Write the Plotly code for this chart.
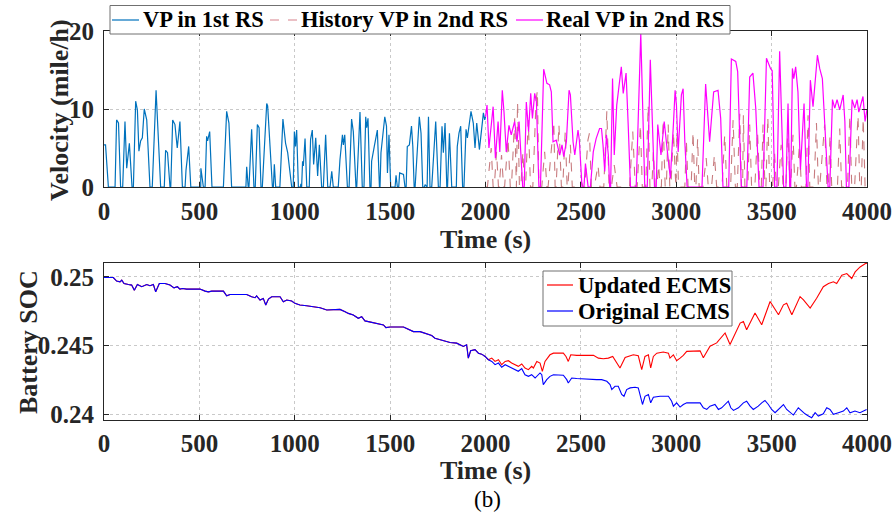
import plotly.graph_objects as go

# ---------------- velocity profiles (time in s, speed in mile/h) ----------------
vp1_t = [0, 8, 23, 58, 66, 76, 87, 98, 110, 119, 133, 147, 154, 166, 175, 183, 192, 201, 211, 224, 241,
         253, 273, 297, 316, 323, 333, 346, 350, 360, 372, 384, 398, 411, 425, 430, 444, 455, 507, 508,
         521, 530, 538, 543, 554, 566, 626, 643, 655, 669, 744, 748, 756, 760, 774, 786, 793, 804, 813,
         823, 830, 853, 858, 870, 883, 888, 893, 900, 922, 938, 952, 963, 984, 992, 998, 1004, 1010,
         1019, 1030, 1032, 1036, 1041, 1045, 1054, 1063, 1076, 1083, 1092, 1099, 1110, 1120, 1129,
         1141, 1150, 1162, 1173, 1185, 1194, 1202, 1228, 1237, 1250, 1255, 1262, 1276, 1285, 1298,
         1307, 1321, 1325, 1342, 1354, 1363, 1372, 1377, 1384, 1394, 1400, 1403, 1417, 1426, 1433,
         1444, 1447, 1452, 1472, 1481, 1486, 1494, 1503, 1526, 1531, 1538, 1545, 1550, 1570, 1578,
         1584, 1590, 1601, 1612, 1619, 1626, 1631, 1653, 1662, 1671, 1680, 1683, 1690, 1694, 1701,
         1709, 1718, 1739, 1753, 1762, 1772, 1779, 1788, 1797, 1801, 1811, 1823, 1847, 1852, 1861,
         1870, 1880, 1887, 1898, 1905, 1924, 1936, 1945, 1954, 1968, 1989, 1996, 2000]
vp1_v = [5.4, 5.4, 0, 0, 8.6, 8.2, 0, 0, 8.4, 2.4, 5.6, 0, 0, 11.0, 9.9, 4.6, 5.9, 6.3, 10.0, 8.6, 0,
         0, 12.4, 0, 0, 4.7, 4.4, 0, 0, 8.6, 8.0, 5.0, 8.4, 0, 0, 2.2, 5.2, 0, 0, 2.4,
         0, 0, 6.5, 5.9, 7.1, 0, 0, 9.7, 8.2, 0, 0, 2.6, 0, 0, 7.4, 0, 0, 8.0, 7.6,
         0, 0, 10.7, 10.4, 6.0, 0, 0, 2.9, 0, 0, 8.7, 5.6, 4.4, 0, 0, 7.1, 5.2, 7.3,
         0, 0, 0.4, 0, 3.3, 2.7, 6.2, 0, 0, 6.1, 7.3, 2.9, 6.3, 1.4, 5.4,
         0, 0, 6.7, 0, 0, 2.0, 0, 0, 3.5, 6.7, 5.4, 6.7, 0, 0, 8.7,
         7.1, 0, 0, 9.6, 0, 0, 9.0, 7.6, 8.8, 0, 0, 3.3, 5.2, 6.3, 7.3,
         0, 0, 4.4, 9.0, 7.8, 1.8, 6.7, 0, 0, 1.5, 0, 0, 1.8, 1.6, 0,
         0, 5.2, 5.4, 7.8, 5.2, 0, 0, 9.0, 6.9, 0, 0, 0.3, 0, 0, 9.0,
         0, 0, 8.4, 0, 0, 7.8, 4.4, 8.2, 0, 0, 6.9, 0, 0, 5.2, 6.9,
         7.8, 0, 0, 7.4, 6.3, 9.7, 8.2, 5.0, 8.2, 4.8, 9.5, 8.6, 9.0]

hist_t = [2000, 2010, 2030, 2040, 2046, 2058, 2068, 2072, 2084, 2095, 2100, 2118, 2130, 2136, 2153,
          2160, 2162, 2168, 2178, 2185, 2196, 2205, 2210, 2224, 2236, 2248, 2265, 2272, 2280, 2295,
          2310, 2322, 2328, 2358, 2365, 2370, 2385, 2398, 2405, 2418, 2428, 2432, 2445, 2455, 2490,
          2502, 2512, 2520, 2537, 2545, 2555, 2570, 2590, 2600, 2620, 2636, 2648, 2660, 2675, 2690,
          2755, 2772, 2785, 2795, 2812, 2822, 2840, 2853, 2862, 2872, 2880, 2890, 2898, 2908, 2915,
          2922, 2931, 2942, 2948, 2958, 2966, 2972, 2985, 2998, 3004, 3012, 3045, 3053, 3062, 3078,
          3088, 3097, 3103, 3112, 3120, 3140, 3157, 3168, 3185, 3200, 3212, 3240, 3254, 3265, 3285,
          3298, 3310, 3320, 3333, 3342, 3348, 3352, 3360, 3375, 3385, 3395, 3412, 3426, 3438, 3446,
          3455, 3465, 3470, 3480, 3490, 3505, 3515, 3525, 3535, 3550, 3560, 3575, 3586, 3595, 3600,
          3612, 3622, 3630, 3646, 3656, 3680, 3691, 3700, 3722, 3735, 3745, 3752, 3778, 3790, 3798,
          3806, 3815, 3845, 3857, 3867, 3898, 3910, 3920, 3935, 3953, 3962, 3970, 3980, 3990, 4000]
hist_v = [0, 0, 5.0, 0, 0, 4.5, 0, 0, 4.1, 0, 0, 6.2, 0, 0, 8.8,
          0, 0, 10.9, 0, 0, 4.5, 0, 0, 8.6, 0, 0, 11.0, 12.4, 0, 0,
          4.5, 0, 0, 8.4, 0, 0, 8.0, 0, 0, 7.1, 0, 0, 5.4, 0, 0,
          0.7, 0, 0, 6.0, 6.9, 0, 0, 2.8, 0, 0, 9.7, 0, 0, 2.8, 0,
          0, 7.1, 0, 0, 8.0, 0, 0, 10.5, 0, 0, 4.5, 0, 0, 2.8, 0,
          0, 8.6, 0, 0, 8.0, 0, 0, 7.1, 0, 7.1, 0, 0, 6.0, 0, 0,
          7.1, 0, 0, 6.2, 0, 0, 3.7, 0, 0, 4.1, 0, 0, 6.7, 0, 0,
          8.6, 0, 0, 9.4, 0, 0, 9.2, 0, 0, 8.0, 0, 0, 7.1, 0, 0,
          8.0, 0, 0, 9.0, 0, 0, 4.5, 0, 0, 5.4, 0, 0, 8.8, 0, 0,
          6.7, 0, 0, 5.4, 0, 0, 9.2, 0, 0, 8.2, 0, 0, 8.0, 0, 0,
          6.7, 0, 0, 7.5, 0, 0, 9.2, 0, 0, 9.2, 0, 0, 8.8, 0, 0]

vp2_t = [2000, 2008, 2018, 2040, 2052, 2066, 2075, 2088, 2097, 2109, 2123, 2135, 2153, 2165, 2176,
         2183, 2195, 2203, 2214, 2226, 2237, 2246, 2258, 2267, 2272, 2280, 2288, 2305, 2322, 2336,
         2345, 2354, 2371, 2389, 2401, 2410, 2424, 2438, 2445, 2459, 2468, 2485, 2492, 2506, 2516,
         2524, 2538, 2550, 2565, 2580, 2598, 2608, 2616, 2625, 2634, 2644, 2651, 2656, 2666, 2675,
         2688, 2712, 2722, 2737, 2748, 2760, 2790, 2814, 2835, 2848, 2864, 2886, 2895, 2903, 2920,
         2937, 2952, 2969, 2985, 2994, 3001, 3010, 3027, 3036, 3045, 3057, 3135, 3154, 3166, 3175,
         3196, 3219, 3233, 3245, 3275, 3289, 3312, 3322, 3341, 3370, 3385, 3402, 3417, 3434, 3455,
         3473, 3494, 3503, 3516, 3528, 3542, 3563, 3575, 3586, 3595, 3600, 3609, 3616, 3626, 3638,
         3651, 3670, 3683, 3690, 3703, 3717, 3740, 3752, 3766, 3796, 3805, 3819, 3831, 3843, 3857,
         3875, 3884, 3892, 3905, 3922, 3936, 3948, 3957, 3979, 3990, 4000]
vp2_v = [9.0, 10.5, 5.0, 10.3, 3.7, 8.4, 4.5, 12.4, 9.6, 4.5, 7.9, 6.7, 8.4, 5.8, 8.4,
         5.4, 0, 0, 10.9, 7.1, 12.0, 8.8, 12.0, 10.9, 7.0, 0, 0, 15.1, 13.3, 13.1,
         12.2, 5.8, 6.0, 4.1, 5.4, 3.9, 5.8, 12.4, 11.8, 5.8, 4.1, 7.3, 6.0, 0, 0,
         3.0, 0, 0, 4.5, 6.2, 7.5, 7.5, 5.4, 2.0, 6.7, 4.1, 0, 0, 13.9, 4.1,
         10.5, 15.4, 12.0, 14.6, 8.0, 0, 0, 19.7, 0, 0, 16.3, 0, 0, 8.0, 4.1,
         8.4, 4.9, 1.1, 8.0, 12.4, 10.5, 4.5, 11.8, 12.6, 5.8, 0, 0, 13.2, 9.0, 5.8,
         12.2, 12.4, 8.8, 0, 0, 16.4, 16.1, 14.8, 0, 0, 14.1, 14.6, 10.0, 0, 0,
         16.5, 15.2, 14.9, 0, 0, 17.4, 0, 0, 10.7, 0, 0, 15.2, 13.9, 15.4, 12.2,
         2.2, 10.7, 0, 0, 13.7, 10.3, 16.9, 15.2, 13.9, 0, 0, 11.2, 10.1, 11.2, 9.9,
         11.8, 8.4, 0, 0, 11.2, 10.1, 11.2, 9.6, 11.6, 8.4, 10.0]

# ---------------- battery state of charge ----------------
soc_shared_t = [0, 49, 66, 84, 93, 105, 128, 145, 159, 175, 198, 212, 224, 241, 259, 271, 290, 320,
                346, 367, 385, 398, 412, 433, 451, 503, 530, 547, 565, 626, 643, 661, 678, 748, 774,
                792, 800, 818, 835, 848, 862, 879, 923, 940, 958, 984, 1001, 1027, 1062, 1098, 1133,
                1168, 1202, 1237, 1264, 1281, 1307, 1333, 1351, 1368, 1386, 1412, 1438, 1465, 1478,
                1500, 1570, 1596, 1622, 1657, 1683, 1700, 1718, 1735, 1762, 1788, 1814, 1849, 1867,
                1884, 1901, 1910, 1922, 1945, 1963, 1980, 1998]
soc_shared = [0.24995, 0.24995, 0.24969, 0.24964, 0.24976, 0.24952, 0.24944, 0.24940, 0.24903,
              0.24944, 0.24928, 0.24940, 0.24944, 0.24935, 0.24944, 0.24891, 0.24952, 0.24952,
              0.24940, 0.24920, 0.24928, 0.24911, 0.24915, 0.24911, 0.24911, 0.24911, 0.24896,
              0.24891, 0.24896, 0.24896, 0.24862, 0.24872, 0.24872, 0.24872, 0.24855, 0.24848,
              0.24862, 0.24831, 0.24843, 0.24795, 0.24838, 0.24855, 0.24855, 0.24819, 0.24831,
              0.24824, 0.24807, 0.24795, 0.24790, 0.24783, 0.24775, 0.24758, 0.24763, 0.24763,
              0.24746, 0.24734, 0.24722, 0.24698, 0.24710, 0.24679, 0.24674, 0.24667, 0.24662,
              0.24650, 0.24630, 0.24635, 0.24635, 0.24618, 0.24601, 0.24601, 0.24589, 0.24577,
              0.24572, 0.24553, 0.24541, 0.24529, 0.24522, 0.24517, 0.24505, 0.24493, 0.24505,
              0.24408, 0.24461, 0.24469, 0.24444, 0.24437, 0.24420]

upd_t = [2015, 2033, 2050, 2068, 2085, 2103, 2120, 2137, 2155, 2172, 2190, 2207, 2225, 2242, 2251,
         2269, 2286, 2298, 2312, 2338, 2356, 2408, 2422, 2434, 2447, 2478, 2566, 2592, 2618, 2644,
         2667, 2705, 2732, 2749, 2775, 2801, 2810, 2819, 2836, 2854, 2866, 2880, 2898, 2932, 2959,
         2967, 2985, 3002, 3020, 3037, 3055, 3125, 3142, 3177, 3212, 3256, 3282, 3335, 3352, 3369,
         3413, 3448, 3492, 3536, 3562, 3579, 3606, 3649, 3667, 3702, 3736, 3771, 3798, 3824, 3841,
         3868, 3894, 3920, 3938, 3964, 3990, 4000]
upd_soc = [0.24396, 0.24408, 0.24384, 0.24396, 0.24360, 0.24384, 0.24389, 0.24372, 0.24360, 0.24348,
           0.24365, 0.24336, 0.24324, 0.24348, 0.24336, 0.24384, 0.24372, 0.24312, 0.24384, 0.24432,
           0.24444, 0.24444, 0.24420, 0.24384, 0.24432, 0.24428, 0.24428, 0.24408, 0.24403, 0.24408,
           0.24420, 0.24336, 0.24413, 0.24420, 0.24432, 0.24425, 0.24360, 0.24324, 0.24420, 0.24432,
           0.24336, 0.24420, 0.24444, 0.24452, 0.24444, 0.24408, 0.24432, 0.24389, 0.24408, 0.24428,
           0.24457, 0.24461, 0.24411, 0.24495, 0.24519, 0.24591, 0.24507, 0.24663, 0.24675, 0.24615,
           0.24736, 0.24651, 0.24820, 0.24724, 0.24796, 0.24808, 0.24724, 0.24856, 0.24832, 0.24772,
           0.24844, 0.24928, 0.24952, 0.24964, 0.24952, 0.25012, 0.25024, 0.24988, 0.25036, 0.25072,
           0.25096, 0.25100]

orig_t = [2015, 2033, 2050, 2068, 2085, 2103, 2120, 2137, 2155, 2172, 2190, 2207, 2225, 2242, 2260,
          2277, 2286, 2295, 2303, 2321, 2338, 2356, 2408, 2426, 2434, 2452, 2478, 2583, 2609, 2636,
          2653, 2662, 2679, 2696, 2714, 2726, 2740, 2758, 2784, 2801, 2814, 2823, 2836, 2854, 2866,
          2880, 2915, 2959, 2976, 2985, 3002, 3020, 3037, 3055, 3125, 3142, 3160, 3177, 3203, 3221,
          3238, 3256, 3273, 3286, 3300, 3326, 3352, 3369, 3387, 3404, 3430, 3448, 3465, 3483, 3500,
          3518, 3544, 3562, 3579, 3597, 3614, 3640, 3658, 3675, 3693, 3710, 3728, 3745, 3771, 3789,
          3806, 3824, 3850, 3876, 3894, 3911, 3937, 3963, 3998]
orig_soc = [0.24396, 0.24384, 0.24360, 0.24372, 0.24341, 0.24360, 0.24348, 0.24336, 0.24324, 0.24312,
            0.24331, 0.24287, 0.24275, 0.24287, 0.24263, 0.24287, 0.24300, 0.24287, 0.24215, 0.24251,
            0.24275, 0.24287, 0.24283, 0.24251, 0.24227, 0.24263, 0.24259, 0.24251, 0.24251, 0.24239,
            0.24215, 0.24179, 0.24203, 0.24203, 0.24143, 0.24130, 0.24179, 0.24191, 0.24196, 0.24191,
            0.24118, 0.24070, 0.24130, 0.24143, 0.24082, 0.24123, 0.24130, 0.24130, 0.24094, 0.24058,
            0.24082, 0.24051, 0.24070, 0.24082, 0.24082, 0.24046, 0.24034, 0.24058, 0.24070, 0.24034,
            0.24046, 0.24070, 0.24094, 0.24046, 0.24027, 0.24046, 0.24082, 0.24094, 0.24058, 0.24034,
            0.24058, 0.24082, 0.24099, 0.24070, 0.24034, 0.24010, 0.24046, 0.24070, 0.24034, 0.24010,
            0.23993, 0.24046, 0.24022, 0.24002, 0.23986, 0.23973, 0.24010, 0.23986, 0.24002, 0.24046,
            0.24034, 0.23998, 0.24010, 0.24022, 0.24046, 0.24010, 0.24022, 0.24010, 0.24034]

time_ticks = [0, 500, 1000, 1500, 2000, 2500, 3000, 3500, 4000]
vel_ticks = [0, 10, 20]
soc_ticks = [0.24, 0.245, 0.25]
soc_tick_text = ["0.24", "0.245", "0.25"]

vel_names = ["VP in 1st RS", "History VP in 2nd RS", "Real VP in 2nd RS"]
soc_names = ["Updated ECMS", "Original ECMS"]

FONT = "Liberation Serif, Times New Roman, serif"
INK = "#262626"
C_VP1, C_HIST, C_VP2 = "#0072BD", "rgba(190,100,105,0.85)", "#FF00FF"
C_UPD, C_ORIG = "#FF0000", "#0000FF"

W, H = 894, 517


def px(x):
    return x / W


def py(y):
    return 1 - y / H


fig = go.Figure()

fig.add_trace(go.Scatter(x=vp1_t, y=vp1_v, mode="lines", name=vel_names[0],
                         line=dict(color=C_VP1, width=1.2), xaxis="x", yaxis="y"))
fig.add_trace(go.Scatter(x=hist_t, y=hist_v, mode="lines", name=vel_names[1],
                         line=dict(color=C_HIST, width=1.1, dash="dash"), xaxis="x", yaxis="y"))
fig.add_trace(go.Scatter(x=vp2_t, y=vp2_v, mode="lines", name=vel_names[2],
                         line=dict(color=C_VP2, width=1.2), xaxis="x", yaxis="y"))

fig.add_trace(go.Scatter(x=soc_shared_t + upd_t, y=soc_shared + upd_soc, mode="lines",
                         name=soc_names[0], line=dict(color=C_UPD, width=1.1),
                         xaxis="x2", yaxis="y2"))
fig.add_trace(go.Scatter(x=soc_shared_t + orig_t, y=soc_shared + orig_soc, mode="lines",
                         name=soc_names[1], line=dict(color=C_ORIG, width=1.1),
                         xaxis="x2", yaxis="y2"))

x_dom = [px(104), px(867)]
top_dom = [py(187), py(31)]
bot_dom = [py(420), py(263)]

axis_common = dict(
    automargin=False,
    showline=True, linecolor=INK, linewidth=1, mirror="ticks",
    ticks="inside", ticklen=5, tickcolor=INK,
    showgrid=True, gridcolor="#c9c9c9", griddash="dot", gridwidth=1,
    zeroline=False, tickfont=dict(family=FONT, size=25, color=INK, weight="bold"),
)

# MATLAB-style boxed legends drawn in paper space
legend_font = dict(family=FONT, size=22.5, color="black", weight="bold")
shapes = []
annotations = []


def legend_box(x0, y0, x1, y1):
    shapes.append(dict(type="rect", xref="paper", yref="paper",
                       x0=px(x0), x1=px(x1), y0=py(y1), y1=py(y0),
                       line=dict(color="#707070", width=1), fillcolor="white", layer="above"))


def legend_entry(lx0, lx1, ly, color, dash, label, tx):
    shapes.append(dict(type="line", xref="paper", yref="paper",
                       x0=px(lx0), x1=px(lx1), y0=py(ly), y1=py(ly),
                       line=dict(color=color, width=1.2, dash=dash), layer="above"))
    annotations.append(dict(text=label, x=px(tx), y=py(ly), xref="paper", yref="paper",
                            xanchor="left", yanchor="middle", showarrow=False, font=legend_font))


legend_box(110, 5.5, 730, 34)
legend_entry(112, 139, 20, C_VP1, "solid", vel_names[0], 141)
legend_entry(270, 297, 20, "rgb(215,130,140)", "dash", vel_names[1], 299)
legend_entry(516, 543, 20, C_VP2, "solid", vel_names[2], 544)

legend_box(543, 271, 732, 326)
legend_entry(547, 573, 285, C_UPD, "solid", soc_names[0], 576)
legend_entry(547, 573, 311, C_ORIG, "solid", soc_names[1], 576)

title_font = dict(family=FONT, size=26, color=INK, weight="bold")
annotations += [
    dict(text="Velocity (mile/h)", x=px(60), y=py(110), textangle=-90, font=title_font),
    dict(text="Time (s)", x=px(485), y=py(240), font=title_font),
    dict(text="Battery SOC", x=px(28), y=py(342), textangle=-90, font=title_font),
    dict(text="Time (s)", x=px(485), y=py(470), font=title_font),
    dict(text="(b)", x=px(487), y=py(499),
         font=dict(family=FONT, size=23, weight="normal", color="black")),
]
for a in annotations[-5:]:
    a.update(xref="paper", yref="paper", xanchor="center", yanchor="middle", showarrow=False)

fig.update_layout(
    template="none",
    width=W, height=H,
    margin=dict(l=0, r=0, t=0, b=0, autoexpand=False),
    paper_bgcolor="white", plot_bgcolor="white",
    font=dict(family=FONT, size=25, color=INK, weight="bold"),
    showlegend=False,
    xaxis=dict(domain=x_dom, anchor="y", range=[0, 4000], tickvals=time_ticks,
               ticklabelstandoff=2, **axis_common),
    yaxis=dict(domain=top_dom, anchor="x", range=[0, 20], tickvals=vel_ticks,
               ticklabelstandoff=4, **axis_common),
    xaxis2=dict(domain=x_dom, anchor="y2", range=[0, 4000], tickvals=time_ticks,
                ticklabelstandoff=1, **axis_common),
    yaxis2=dict(domain=bot_dom, anchor="x2", range=[0.23957, 0.25101], tickvals=soc_ticks,
                ticktext=soc_tick_text, ticklabelstandoff=4, **axis_common),
    shapes=shapes,
    annotations=annotations,
)

fig.write_html("out.html")
